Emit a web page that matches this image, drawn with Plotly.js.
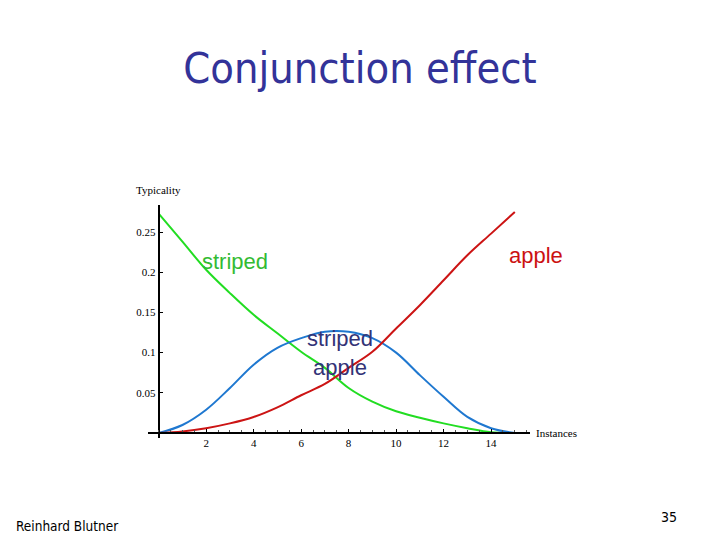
<!DOCTYPE html>
<html>
<head>
<meta charset="utf-8">
<script src="https://cdn.plot.ly/plotly-3.0.1.min.js"></script>
<style>
  html, body { margin: 0; padding: 0; background: #fff; }
  #chart { width: 720px; height: 540px; }
</style>
</head>
<body>
<div id="chart"></div>
<script>
// instances 0..15 and the three typicality curves
const instances = [0, 1, 2, 3, 4, 5, 6, 7, 8, 9, 10, 11, 12, 13, 14, 15];
const striped = [0.273, 0.238, 0.203, 0.174, 0.147, 0.124, 0.101, 0.081, 0.056, 0.039, 0.027, 0.019, 0.012, 0.006, 0.001, 0.0];
const apple = [0.0, 0.002, 0.006, 0.012, 0.020, 0.032, 0.047, 0.061, 0.081, 0.101, 0.130, 0.159, 0.190, 0.221, 0.248, 0.275];
const stripedApple = [0.0, 0.010, 0.029, 0.056, 0.085, 0.106, 0.118, 0.126, 0.126, 0.118, 0.100, 0.072, 0.045, 0.020, 0.006, 0.0];

const xTicks = [2, 4, 6, 8, 10, 12, 14];
const yTicks = [0.05, 0.1, 0.15, 0.2, 0.25];
const yTickText = ['0.05', '0.1', '0.15', '0.2', '0.25'];

const serif = 'Liberation Serif, Times New Roman, serif';
const sans = 'Liberation Sans, Arial, sans-serif';
const tahoma = 'DejaVu Sans Condensed, Tahoma, sans-serif';

function line(y, color) {
    return {
        x: instances, y: y, type: 'scatter', mode: 'lines',
        line: { color: color, width: 2, shape: 'spline', smoothing: 1 },
        hoverinfo: 'skip', showlegend: false
    };
}

var data = [
    line(striped, '#22dd22'),
    line(stripedApple, '#1f78d0'),
    line(apple, '#cc1414')
];

var xr = [-0.45, 15.64];
var yr = [-0.0062, 0.2836];
var m = { l: 148, r: 190, t: 205, b: 102 };
var pw = 720 - m.l - m.r;
var ph = 540 - m.t - m.b;
// pixel position on the slide -> paper fraction (for the loose slide texts)
function px(x) { return (x - m.l) / pw; }
function py(y) { return (540 - y - m.b) / ph; }

function label(text, x, y, font, xanchor) {
    return { text: text, x: px(x), y: py(y), xref: 'paper', yref: 'paper', showarrow: false,
             xanchor: xanchor || 'center', yanchor: 'middle', font: font };
}

var layout = {
    width: 720, height: 540,
    margin: m,
    paper_bgcolor: '#fff', plot_bgcolor: '#fff',
    showlegend: false,
    title: {
        text: 'Conjunction effect',
        font: { family: tahoma, size: 43, color: '#333399' },
        x: 0.5, xref: 'container', xanchor: 'center', y: 0.874, yanchor: 'middle'
    },
    xaxis: {
        range: xr, anchor: 'free', position: (0 - yr[0]) / (yr[1] - yr[0]),
        showgrid: false, zeroline: false,
        showline: true, linecolor: '#000', linewidth: 2,
        tickvals: xTicks, ticks: 'inside', ticklen: 3, tickcolor: '#000', tickwidth: 1,
        minor: { dtick: 0.5, tick0: 0, ticks: 'inside', ticklen: 2, tickcolor: '#555' },
        tickfont: { family: serif, size: 11, color: '#000' }
    },
    yaxis: {
        range: yr, anchor: 'free', position: (0 - xr[0]) / (xr[1] - xr[0]),
        showgrid: false, zeroline: false,
        showline: true, linecolor: '#000', linewidth: 2,
        tickvals: yTicks, ticktext: yTickText, ticks: 'inside', ticklen: 3, tickcolor: '#000',
        tickfont: { family: serif, size: 11, color: '#000' }
    },
    annotations: [
        label('Typicality', 158, 190, { family: serif, size: 11, color: '#000' }),
        label('Instances', 534, 433, { family: serif, size: 11, color: '#000' }, 'left'),
        label('striped', 235, 261, { family: sans, size: 22, color: '#33bb33' }),
        label('apple', 536, 255, { family: sans, size: 22, color: '#cc1111' }),
        label('striped<br>apple', 340, 353, { family: sans, size: 22, color: '#333377' }),
        label('Reinhard Blutner', 14, 526, { family: tahoma, size: 13.5, color: '#000' }, 'left'),
        label('35', 669, 517, { family: tahoma, size: 14, color: '#000' })
    ]
};

Plotly.newPlot('chart', data, layout, { displayModeBar: false, staticPlot: true });
</script>
</body>
</html>
